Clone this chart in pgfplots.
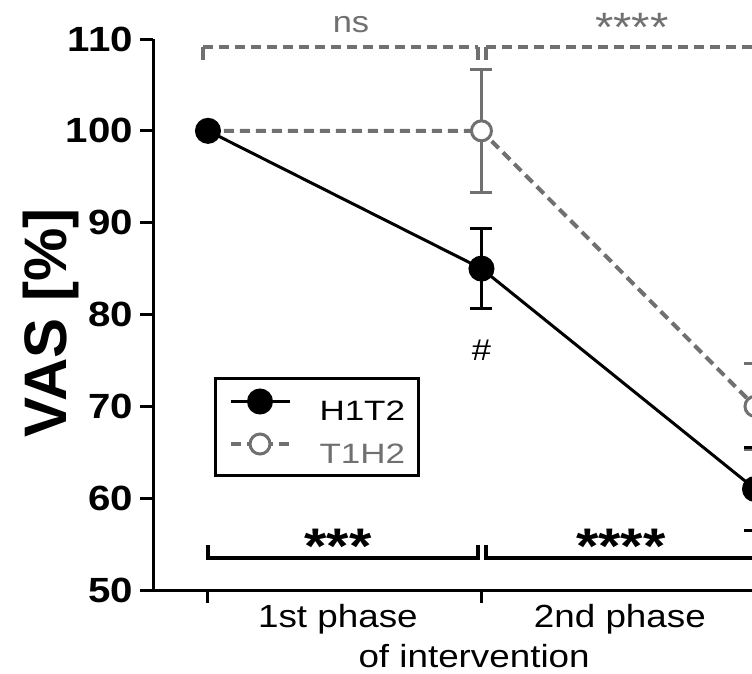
\documentclass[border=0pt]{standalone}
\usepackage{fontspec}
\setmainfont{Liberation Sans}
\newfontfamily\sfst{Liberation Sans}[FakeStretch=1.15]
\newfontfamily\sfleg{Liberation Sans}[FakeStretch=1.25]
\usepackage{pgfplots}
\pgfplotsset{compat=1.18}
\definecolor{gr}{RGB}{112,112,112}

\pgfplotstableread{
x y e
1 100 0
2 85 4.4
3 61 4.5
}\hont
\pgfplotstableread{
x y e
1 100 0
2 100 6.7
3 70 4.7
}\thon

\begin{document}
\begin{tikzpicture}[x=1pt,y=1pt]
\useasboundingbox (0,0) rectangle (752,673);
\clip (0,0) rectangle (752,673);
\begin{axis}[
  x=273.5pt, y=9.183pt,
  xmin=0.799, xmax=3.3, ymin=50, ymax=110,
  at={(153pt,83pt)}, anchor=south west,
  axis lines=left,
  axis line style={-, line width=3pt},
  every tick/.style={black, line width=3pt},
  major tick length=13pt,
  clip=false,
  xtick={1,2,3}, xticklabels={},
  ytick={50,60,...,110},
  tick align=outside,
  /pgf/number format/assume math mode=true,
  yticklabel style={font=\fontsize{35}{35}\selectfont\bfseries\sfst, inner sep=0pt, anchor=east, xshift=-7pt},
  legend style={at={(0.0892,0.205)}, anchor=south west, draw=black, line width=3pt, fill=white,
    inner xsep=13pt, inner ysep=11pt,
    column sep=28pt, row sep=12pt, nodes={inner sep=0pt, font=\fontsize{28}{28}\selectfont\sfleg}},
  legend cell align=left,
  reverse legend,
  legend image code/.code={\draw[mark repeat=2,mark phase=2,#1] plot coordinates {(0pt,10pt) (29.5pt,10pt) (59pt,10pt)};},
]
\addplot[gr, line width=4pt, dash pattern=on 10pt off 6pt, mark=*, mark size=10pt,
  mark options={solid, line width=3pt, draw=gr, fill=white},
  error bars/.cd, y dir=both, y explicit,
  error bar style={solid, line width=3pt, gr},
  error mark=-, error mark options={solid, line width=3pt, gr, mark size=11pt, rotate=90}]
  table[x=x, y=y, y error=e] {\thon};
\addlegendentry{\textcolor{gr}{T1H2}}
\addplot[black, line width=3pt, mark=*, mark size=11.5pt,
  mark options={solid, fill=black},
  error bars/.cd, y dir=both, y explicit,
  error bar style={solid, line width=3pt, black},
  error mark=-, error mark options={solid, line width=3pt, black, mark size=11pt, rotate=90}]
  table[x=x, y=y, y error=e] {\hont};
\addlegendentry{H1T2}

% significance brackets (annotations)
\draw[gr, line width=4pt] (axis cs:0.982,107.7) -- (axis cs:0.982,109.13);
\draw[gr, line width=4pt, dash pattern=on 10pt off 6pt] (axis cs:0.982,109.13) -- (axis cs:1.987,109.13);
\draw[gr, line width=4pt] (axis cs:1.987,109.13) -- (axis cs:1.987,107.7);
\draw[gr, line width=4pt] (axis cs:2.016,107.7) -- (axis cs:2.016,109.13);
\draw[gr, line width=4pt, dash pattern=on 10pt off 6pt] (axis cs:2.016,109.13) -- (axis cs:3.5,109.13);
\draw[black, line width=3.5pt] (axis cs:1,54.9) -- (axis cs:1,53.48) -- (axis cs:1.987,53.48) -- (axis cs:1.987,54.9);
\draw[black, line width=3.5pt] (axis cs:2.016,54.9) -- (axis cs:2.016,53.48) -- (axis cs:3.5,53.48);

\node[gr, anchor=base, inner sep=0pt, font=\fontsize{30}{30}\selectfont\sfst] at (axis cs:1.523,110.76) {ns};
\node[gr, anchor=north, inner sep=0pt, font=\fontsize{41}{41}\selectfont\sfst] at (axis cs:2.55,112.8) {****};
\node[black, anchor=north, inner sep=0pt, font=\fontsize{50}{50}\selectfont\bfseries\sfst] at (axis cs:1.475,56.65) {***};
\node[black, anchor=north, inner sep=0pt, font=\fontsize{50}{50}\selectfont\bfseries\sfst] at (axis cs:2.51,56.65) {****};
\node[black, inner sep=0pt, font=\fontsize{30}{30}\selectfont\sfst] at (axis cs:2,76.13) {\#};

\node[anchor=base, inner sep=0pt, font=\fontsize{32}{32}\selectfont\sfst] at (axis cs:1.475,45.97) {1st phase};
\node[anchor=base, inner sep=0pt, font=\fontsize{32}{32}\selectfont\sfst] at (axis cs:2.506,45.97) {2nd phase};
\node[anchor=base, inner sep=0pt, font=\fontsize{32}{32}\selectfont\sfst] at (axis cs:1.973,41.61) {of intervention};
\end{axis}
\node[rotate=90, anchor=base, inner sep=0pt, font=\fontsize{60}{60}\selectfont\bfseries] at (66,350) {VAS [\%]};
\end{tikzpicture}
\end{document}
